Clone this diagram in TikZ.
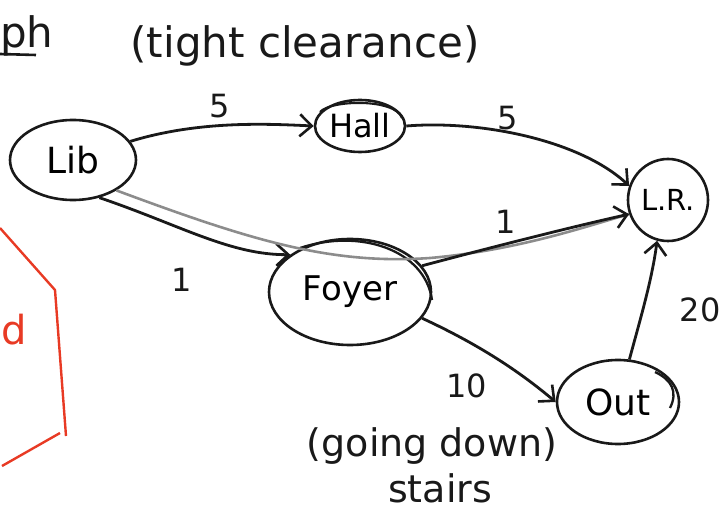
\documentclass[tikz,border=0pt]{standalone}
\usepackage{fontspec}
\setmainfont{DejaVu Sans}
\usetikzlibrary{arrows.meta,shapes.geometric}
\definecolor{pen}{RGB}{25,25,25}
\definecolor{redpen}{RGB}{232,58,36}
\definecolor{pencil}{RGB}{140,140,140}
\tikzset{
  place/.style={ellipse,draw=pen,line width=2.6pt,inner sep=0pt},
  edge/.style={draw=pen,line width=2.8pt,-{Straight Barb[length=12pt,width=22pt,line width=2.6pt]}},
  wlabel/.style={text=pen,font=\fontsize{32}{34}\selectfont},
  note/.style={text=pen,inner sep=0pt,font=\fontsize{42}{44}\selectfont},
  lownote/.style={text=pen,inner sep=0pt,font=\fontsize{38}{40}\selectfont},
}
\begin{document}
\begin{tikzpicture}[x=1pt,y=-1pt]
\useasboundingbox (0,0) rectangle (726,513);

% places
\node[place,minimum width=126pt,minimum height=80pt,font=\fontsize{36}{38}\selectfont] (lib) at (73,160) {Lib};
\node[place,minimum width=90pt,minimum height=52pt,font=\fontsize{32}{34}\selectfont] (hall) at (360,126) {Hall};
\node[place,minimum width=80pt,minimum height=82pt,font=\fontsize{29}{31}\selectfont] (lr) at (668,200) {L.R.};
\node[place,minimum width=162pt,minimum height=106pt,font=\fontsize{34}{36}\selectfont] (foyer) at (350,292) {Foyer};
\node[place,minimum width=122pt,minimum height=84pt,font=\fontsize{36}{38}\selectfont] (out) at (618,402) {Out};

% second pen strokes over some outlines
\draw[pen,line width=2.3pt] (300,248) .. controls (360,228) and (425,250) .. (432,300);
\draw[pen,line width=2.3pt] (655,372) .. controls (672,380) and (678,392) .. (670,408);
\draw[pen,line width=2.1pt] (320,112) .. controls (330,100) and (395,98) .. (402,118);

% connectors
\draw[edge] (lib.18) .. controls (200,120) and (270,124) .. (hall.west);
\draw[edge] (hall.east) .. controls (480,120) and (580,140) .. (lr.160);
\draw[edge] (lib.-55) .. controls (180,225) and (230,255) .. (foyer.148);
\draw[pencil,line width=2.6pt] (lib.-35) .. controls (250,240) and (330,265) .. (430,258)
  .. controls (520,250) and (590,225) .. (lr.200);
\draw[edge] (foyer.20) .. controls (500,245) and (580,225) .. (lr.200);
\draw[edge] (foyer.-20) .. controls (480,345) and (520,372) .. (out.west);
\draw[edge] (out.75) .. controls (640,320) and (652,280) .. (lr.-105);

% weights
\node[wlabel] (w1) at (220,106) {5};
\node[wlabel] (w2) at (508,118) {5};
\node[wlabel] (w3) at (506,222) {1};
\node[wlabel] (w4) at (182,280) {1};
\node[wlabel,anchor=east] (w5) at (724,310) {20};
\node[wlabel] (w6) at (467,386) {10};

% notes
\node[note] (n1) at (305,46) {(tight clearance)};
\node[lownote] (n2) at (432,446) {(going down)};
\node[lownote] (n3) at (440,488) {stairs};
\node[note,anchor=west] (n4) at (0,36) {ph};
\draw[pen,line width=2.6pt] (0,54) -- (36,55);

% red outline at the left edge
\node[text=redpen,font=\fontsize{40}{42}\selectfont] (rd) at (14,330) {d};
\draw[redpen,line width=2.4pt] (0,228) -- (55,290) -- (66,436);
\draw[redpen,line width=2.4pt] (60,433) -- (2,466);
\end{tikzpicture}
\end{document}
